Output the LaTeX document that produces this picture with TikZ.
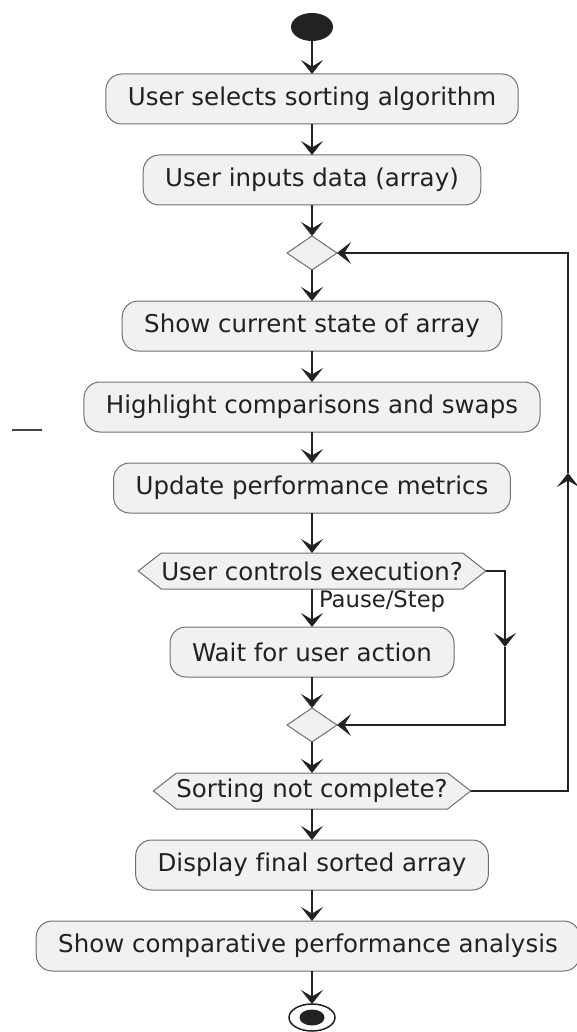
\documentclass[tikz,border=0pt]{standalone}
\usepackage{fontspec}
\setmainfont{DejaVu Sans}[Ligatures=NoCommon]
\usepackage{xcolor}
\usepackage{tikz}
\usetikzlibrary{positioning,arrows.meta,shapes.geometric,shapes.symbols}
\definecolor{cfill}{HTML}{F1F1F1}
\definecolor{cborder}{HTML}{707070}
\definecolor{cline}{HTML}{222222}
\tikzset{
  every node/.append style={outer sep=0pt},
  actbox/.style={rounded corners=16pt, draw=cborder, fill=cfill, line width=1pt,
    minimum height=50pt, inner xsep=22pt, text=cline,
    font=\fontsize{24.5}{28}\selectfont},
  guardbox/.style={signal, signal to=east and west, signal pointer angle=76,
    draw=cborder, fill=cfill, line width=1pt, minimum height=36pt,
    inner xsep=0pt, inner ysep=0pt, text=cline,
    font=\fontsize{24.5}{28}\selectfont},
  mergebox/.style={diamond, draw=cborder, fill=cfill, line width=1pt,
    minimum width=50pt, minimum height=34pt, inner sep=0pt},
  startdot/.style={ellipse, fill=cline, minimum width=42pt, minimum height=28pt, inner sep=0pt},
  endring/.style={ellipse, draw=cline, fill=white, line width=1.5pt,
    minimum width=46pt, minimum height=27pt, inner sep=0pt},
  enddot/.style={ellipse, fill=cline, minimum width=25pt, minimum height=16pt, inner sep=0pt},
  guardlabel/.style={anchor=west, inner xsep=7pt, text=cline,
    font=\fontsize{22.7}{26}\selectfont},
  flowarrow/.style={-{Stealth[length=14pt,width=22pt,inset=6.5pt]}, line width=1.6pt, color=cline},
  flowline/.style={line width=1.6pt, color=cline}
}

\begin{document}
\begin{tikzpicture}[x=1pt, y=1pt, node distance=31pt]
    \useasboundingbox (0,0) rectangle (577,-1032);

    \node[startdot] (start) at (312,-27) {};
    \node[actbox, below=33pt of start] (select) {User selects sorting algorithm};
    \node[actbox, below=of select] (input) {User inputs data (array)};
    \node[mergebox, below=of input] (loop) {};
    \node[actbox, below=of loop] (show) {Show current state of array};
    \node[actbox, below=of show] (highlight) {Highlight comparisons and swaps};
    \node[actbox, below=of highlight] (metrics) {Update performance metrics};
    \node[guardbox, below=40pt of metrics] (control) {User controls execution?};
    \node[actbox, below=38pt of control] (wait) {Wait for user action};
    \node[mergebox, below=of wait] (join) {};
    \node[guardbox, below=of join] (done) {Sorting not complete?};
    \node[actbox, below=of done] (final) {Display final sorted array};
    \node[actbox, below=of final, xshift=-4pt] (compare) {Show comparative performance analysis};
    \node[endring, below=33pt of compare, xshift=4pt] (stop) {};
    \node[enddot] (stopdot) at (stop) {};

    % main flow
    \draw[flowarrow] (start) -- (select);
    \draw[flowarrow] (select) -- (input);
    \draw[flowarrow] (input) -- (loop);
    \draw[flowarrow] (loop) -- (show);
    \draw[flowarrow] (show) -- (highlight);
    \draw[flowarrow] (highlight) -- (metrics);
    \draw[flowarrow] (metrics) -- (control);
    \draw[flowarrow] (control) -- node[guardlabel, pos=0.32] {Pause/Step} (wait);
    \draw[flowarrow] (wait) -- (join);
    \draw[flowarrow] (join) -- (done);
    \draw[flowarrow] (done) -- (final);
    \draw[flowarrow] (final) -- (compare.north -| final);
    \draw[flowarrow] (compare.south -| stop) -- (stop);

    % skip branch when the user does not step
    \coordinate (skiptop) at (control.east -| 505,0);
    \coordinate[below=76pt of skiptop] (skipmid);
    \draw[flowarrow] (control.east) -- (skiptop) -- (skipmid);
    \draw[flowarrow] (skipmid) |- (join.east);

    % back to the loop while sorting goes on
    \coordinate (backbot) at (done.east -| 568,0);
    \coordinate[above=318pt of backbot] (backmid);
    \draw[flowarrow] (done.east) -- (backbot) -- (backmid);
    \draw[flowarrow] (backmid) |- (loop.east);

    \draw[flowline, color=cline!85] (12,-430) -- (42,-430);
  \end{tikzpicture}
\end{document}
